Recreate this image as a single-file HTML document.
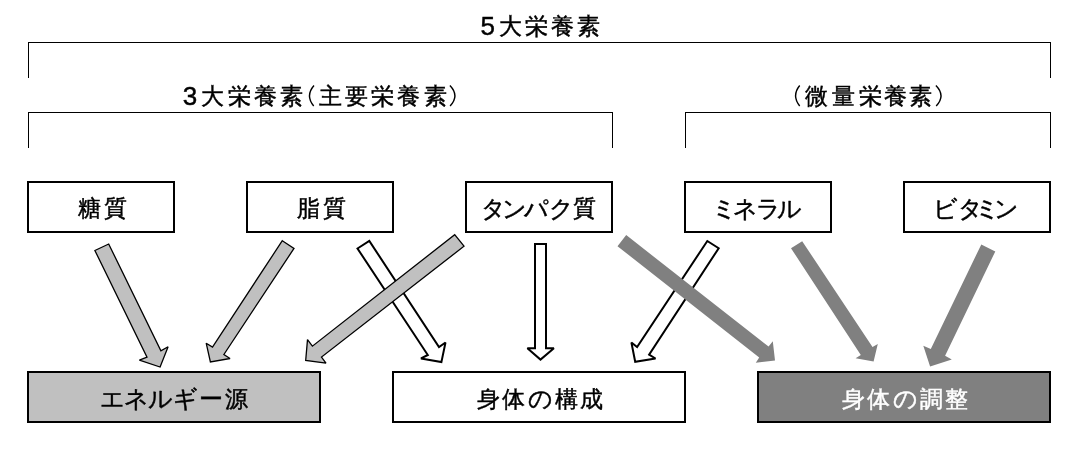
<!DOCTYPE html>
<html><head><meta charset="utf-8"><style>
html,body{margin:0;padding:0;background:#fff;width:1077px;height:464px;overflow:hidden}
body{position:relative;font-family:"Liberation Sans",sans-serif;font-size:23px;color:#000}
svg{position:absolute;left:0;top:0}
.tx{position:absolute;left:0;top:0;width:1077px;height:464px;will-change:opacity}
.t{position:absolute;line-height:1;white-space:pre;-webkit-text-stroke:0.45px currentColor}
.aw{fill:#fff;stroke:#000;stroke-width:2;stroke-linejoin:miter;stroke-miterlimit:2.5}
.al{fill:#c0c0c0;stroke:#000;stroke-width:1.3;stroke-linejoin:miter;stroke-miterlimit:2.5}
.ad{fill:#808080;stroke:none}
</style></head><body>
<svg width="1077" height="464" viewBox="0 0 1077 464">
<rect x="28" y="42" width="1023" height="1" fill="#000"/>
<rect x="28" y="42" width="1" height="36" fill="#000"/>
<rect x="1050" y="42" width="1" height="36" fill="#000"/>
<rect x="28" y="112" width="585" height="1" fill="#000"/>
<rect x="28" y="112" width="1" height="36" fill="#000"/>
<rect x="612" y="112" width="1" height="36" fill="#000"/>
<rect x="685" y="112" width="366" height="1" fill="#000"/>
<rect x="685" y="112" width="1" height="36" fill="#000"/>
<rect x="1050" y="112" width="1" height="36" fill="#000"/>
<rect x="28" y="182" width="146" height="50" fill="#fff" stroke="#000" stroke-width="2"/>
<rect x="247" y="182" width="146" height="50" fill="#fff" stroke="#000" stroke-width="2"/>
<rect x="466" y="182" width="146" height="50" fill="#fff" stroke="#000" stroke-width="2"/>
<rect x="685" y="182" width="146" height="50" fill="#fff" stroke="#000" stroke-width="2"/>
<rect x="904" y="182" width="146" height="50" fill="#fff" stroke="#000" stroke-width="2"/>
<rect x="28" y="372" width="292" height="50" fill="#c0c0c0" stroke="#000" stroke-width="2"/>
<rect x="393" y="372" width="292" height="50" fill="#fff" stroke="#000" stroke-width="2"/>
<rect x="758" y="372" width="292" height="50" fill="#808080" stroke="#000" stroke-width="2"/>
<path d="M314.0,85.5 Q305.15,95.65 313.7,106.0" fill="none" stroke="#000" stroke-width="1.4"/>
<path d="M449.9,85.5 Q459.80,95.65 450.1,106.0" fill="none" stroke="#000" stroke-width="1.4"/>
<path d="M799.7,85.5 Q791.50,95.65 799.7,106.0" fill="none" stroke="#000" stroke-width="1.4"/>
<path d="M935.9,85.5 Q945.95,95.65 936.2,106.0" fill="none" stroke="#000" stroke-width="1.4"/>
<polygon class="aw" points="357.5,248.5 369.3,240.9 439.0,347.1 445.5,342.5 441.4,362.1 421.0,358.4 427.8,355.0"/>
<polygon class="aw" points="535,244 546,244 546,348.2 553.9,348.2 540.5,359.6 527.4,348.2 535,348.2"/>
<polygon class="aw" points="707.3,241.0 718.7,248.2 649.1,354.7 655.5,358.5 635.2,361.8 631.4,342.5 637.1,347.1"/>
<polygon class="al" points="94.9,250.5 108.7,244.0 160.9,350.8 168.1,346.7 160.1,367.0 139.4,360.2 147.0,357.2"/>
<polygon class="al" points="282.3,240.7 294.0,248.4 223.9,354.5 230.0,358.5 210.4,362.0 206.2,343.2 212.5,347.0"/>
<polygon class="al" points="454.7,234.7 464.0,246.2 321.5,357.1 326.0,363.2 305.7,360.5 307.5,339.6 312.4,346.2"/>
<polygon class="ad" points="626.2,235.1 768.6,346.6 772.8,341.2 775.0,360.5 755.8,362.8 759.2,357.5 617.5,246.2"/>
<polygon class="ad" points="791.0,248.2 802.2,241.2 872.5,347.0 877.8,343.9 873.6,361.6 855.6,358.3 860.8,354.9"/>
<polygon class="ad" points="981.3,244.4 995.3,251.4 945.1,355.8 951.8,359.4 930.1,366.4 923.3,345.7 930.8,349.0"/>
</svg>
<div class="tx">
<span class="t" style="left:480.4px;top:13.4px;font-size:26px">5</span>
<span class="t" style="left:498.8px;top:14.6px;">大</span>
<span class="t" style="left:525.3px;top:14.6px;">栄</span>
<span class="t" style="left:550.6px;top:14.6px;">養</span>
<span class="t" style="left:577.0px;top:14.6px;">素</span>
<span class="t" style="left:182.8px;top:83.0px;font-size:26px">3</span>
<span class="t" style="left:201.2px;top:84.7px;">大</span>
<span class="t" style="left:227.9px;top:84.7px;">栄</span>
<span class="t" style="left:254.2px;top:84.7px;">養</span>
<span class="t" style="left:280.4px;top:84.7px;">素</span>
<span class="t" style="left:318.6px;top:84.7px;">主</span>
<span class="t" style="left:344.6px;top:84.7px;">要</span>
<span class="t" style="left:371.1px;top:84.7px;">栄</span>
<span class="t" style="left:397.1px;top:84.7px;">養</span>
<span class="t" style="left:423.9px;top:84.7px;">素</span>
<span class="t" style="left:805.4px;top:84.7px;">微</span>
<span class="t" style="left:831.7px;top:84.7px;">量</span>
<span class="t" style="left:858.5px;top:84.7px;">栄</span>
<span class="t" style="left:883.9px;top:84.7px;">養</span>
<span class="t" style="left:909.4px;top:84.7px;">素</span>
<span class="t" style="left:77.7px;top:197.4px;">糖</span>
<span class="t" style="left:104.2px;top:197.4px;">質</span>
<span class="t" style="left:296.8px;top:197.4px;">脂</span>
<span class="t" style="left:322.9px;top:197.4px;">質</span>
<span class="t" style="left:481.2px;top:196.9px;font-size:24px">タ</span>
<span class="t" style="left:502.0px;top:196.9px;font-size:24px">ン</span>
<span class="t" style="left:523.8px;top:196.9px;font-size:24px">パ</span>
<span class="t" style="left:549.0px;top:196.9px;font-size:24px">ク</span>
<span class="t" style="left:573.4px;top:197.4px;">質</span>
<span class="t" style="left:711.7px;top:196.9px;font-size:24px">ミ</span>
<span class="t" style="left:733.0px;top:196.9px;font-size:24px">ネ</span>
<span class="t" style="left:755.8px;top:196.9px;font-size:24px">ラ</span>
<span class="t" style="left:777.2px;top:196.9px;font-size:24px">ル</span>
<span class="t" style="left:933.0px;top:196.9px;font-size:24px">ビ</span>
<span class="t" style="left:957.5px;top:196.9px;font-size:24px">タ</span>
<span class="t" style="left:975.4px;top:196.9px;font-size:24px">ミ</span>
<span class="t" style="left:994.4px;top:196.9px;font-size:24px">ン</span>
<span class="t" style="left:100.1px;top:387.1px;font-size:24px">エ</span>
<span class="t" style="left:124.2px;top:387.1px;font-size:24px">ネ</span>
<span class="t" style="left:147.8px;top:387.1px;font-size:24px">ル</span>
<span class="t" style="left:172.9px;top:387.1px;font-size:24px">ギ</span>
<span class="t" style="left:198.8px;top:387.1px;font-size:24px">ー</span>
<span class="t" style="left:224.6px;top:387.6px;">源</span>
<span class="t" style="left:477.3px;top:387.6px;">身</span>
<span class="t" style="left:502.4px;top:387.6px;">体</span>
<span class="t" style="left:528.2px;top:387.1px;font-size:24px">の</span>
<span class="t" style="left:554.5px;top:387.6px;">構</span>
<span class="t" style="left:579.9px;top:387.6px;">成</span>
<span class="t" style="left:842.3px;top:387.6px;;color:#fff">身</span>
<span class="t" style="left:867.4px;top:387.6px;;color:#fff">体</span>
<span class="t" style="left:893.2px;top:387.1px;font-size:24px;color:#fff">の</span>
<span class="t" style="left:920.0px;top:387.6px;;color:#fff">調</span>
<span class="t" style="left:945.4px;top:387.6px;;color:#fff">整</span>
</div>
</body></html>
